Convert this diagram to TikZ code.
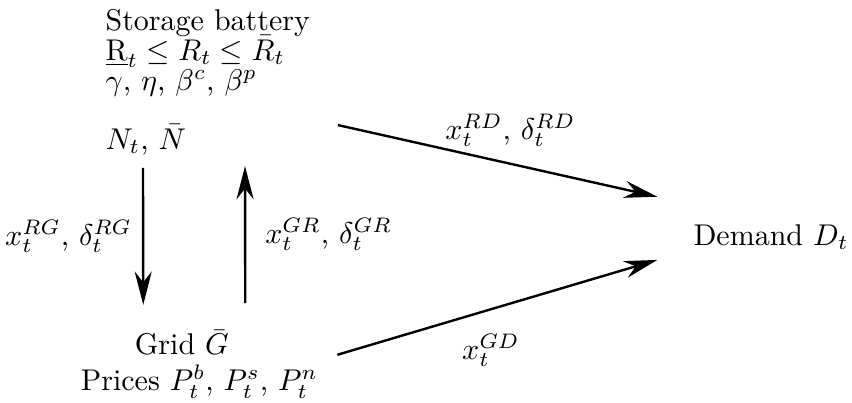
\documentclass[tikz,border=0pt]{standalone}
\usepackage{amsmath,amssymb}
\usetikzlibrary{arrows.meta,positioning}

\begin{document}
\begin{tikzpicture}[
  block/.style={align=left,inner sep=0pt},
  flow/.style={-{Stealth[length=3.9mm,width=2mm]},thick}
]
\useasboundingbox (0,0) rectangle (9.98,4.72);

\node[block,anchor=north west] (battery) at (1.23,4.62)
 {Storage battery\\[-2pt]
  $\underline{\mathrm{R}}_t \leq R_t \leq \bar{R}_t$\\[-2pt]
  $\gamma$, $\eta$, $\beta^c$, $\beta^p$\\[7.7pt]
  $N_t$, $\bar{N}$};
\node[block,anchor=north west] (grid) at (0.94,0.86)
 {\hspace*{18pt}Grid $\bar{G}$\\
  Prices $P_t^b$, $P_t^s$, $P_t^n$};
\node[anchor=base west] (demand) at (8.0,1.85) {Demand $D_t$};

% battery <-> grid
\draw[flow] ([xshift=4.45mm,yshift=-1.4mm]battery.south west)
  -- node[left] {$x_t^{RG}$, $\delta_t^{RG}$} ([xshift=7.38mm,yshift=2.9mm]grid.north west);
\draw[flow] ([xshift=19.33mm,yshift=3.1mm]grid.north west)
  -- node[right=3pt] {$x_t^{GR}$, $\delta_t^{GR}$} ([xshift=16.4mm,yshift=-1.2mm]battery.south west);

% to demand
\draw[flow] ([xshift=3.2mm,yshift=3.6mm]battery.south east)
  -- node[pos=0.54,above=2pt] {$x_t^{RD}$, $\delta_t^{RD}$} ([xshift=-3mm,yshift=4.7mm]demand.west);
\draw[flow] ([xshift=2.2mm,yshift=1.1mm]grid.east)
  -- node[pos=0.48,below=4.5pt] {$x_t^{GD}$} ([xshift=-3mm,yshift=-2.7mm]demand.west);
\end{tikzpicture}
\end{document}
